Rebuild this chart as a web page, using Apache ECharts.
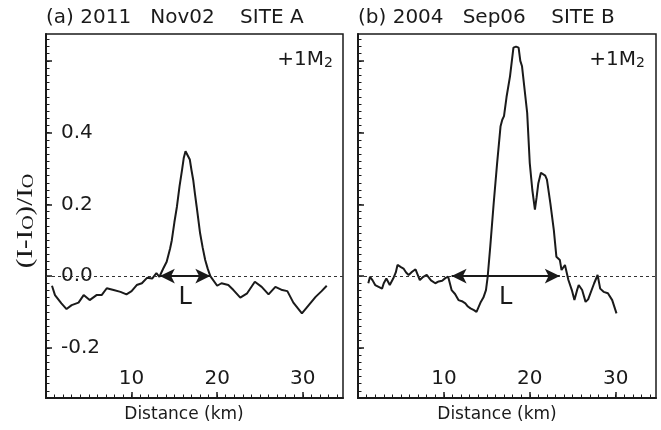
<!DOCTYPE html>
<html>
<head>
<meta charset="utf-8">
<script src="https://cdn.jsdelivr.net/npm/echarts@6/dist/echarts.min.js"></script>
<style>
  html, body { margin: 0; background: #fff; }
  #chart { width: 661px; height: 430px; }
</style>
</head>
<body>
<div id="chart"></div>
<script>
// panel (a) 2011 Nov02, site A
const distA = [0.7, 1.05, 1.8, 2.4, 3.0, 3.8, 4.4, 5.1, 5.9, 6.5, 7.1, 7.9, 8.7, 9.4, 10.0, 10.6, 11.2, 11.8, 12.4, 12.9, 13.25,
  13.7, 14.1, 14.5, 14.7, 15.0, 15.3, 15.6, 15.9, 16.1, 16.3, 16.5, 16.8, 17.0, 17.2, 17.4, 17.6, 18.0, 18.3, 18.6, 18.9, 19.2,
  20.0, 20.5, 21.3, 21.9, 22.7, 23.5, 24.4, 25.2, 26.0, 26.8, 27.6, 28.2, 28.9, 29.9, 30.7, 31.5, 32.2, 32.8]
const valA = [-0.027, -0.053, -0.076, -0.092, -0.081, -0.074, -0.053, -0.067, -0.053, -0.053, -0.034, -0.039, -0.044, -0.051, -0.042, -0.025, -0.02, -0.005, -0.007, 0.008, -0.002,
  0.021, 0.04, 0.077, 0.1, 0.15, 0.194, 0.25, 0.297, 0.33, 0.348, 0.345, 0.325, 0.295, 0.268, 0.23, 0.194, 0.12, 0.08, 0.045, 0.02, 0.0,
  -0.027, -0.02, -0.025, -0.039, -0.06, -0.048, -0.016, -0.03, -0.051, -0.03, -0.039, -0.042, -0.074, -0.104, -0.081, -0.058, -0.042, -0.027]

// panel (b) 2004 Sep06, site B
const distB = [1.2, 1.4, 1.7, 2.0, 2.4, 2.8, 3.0, 3.3, 3.7, 4.1, 4.4, 4.6, 5.0, 5.3, 5.6, 5.9, 6.3, 6.7, 7.2, 7.6, 8.0, 8.5, 9.0, 9.4, 9.8, 10.2, 10.5,
  10.9, 11.3, 11.7, 12.1, 12.5, 12.8, 13.1, 13.5, 13.8, 14.3, 14.6, 14.9, 15.1, 15.4, 15.8, 16.2, 16.6, 16.8, 17.0, 17.3, 17.7, 18.1, 18.4, 18.7,
  18.9, 19.1, 19.3, 19.7, 20.0, 20.3, 20.6, 20.8, 21.0, 21.3, 21.5, 21.8, 22.0, 22.4, 22.8, 23.1, 23.3, 23.5, 23.7, 23.9, 24.1, 24.5, 24.9,
  25.2, 25.5, 25.7, 26.1, 26.5, 26.8, 27.0, 27.5, 27.9, 28.2, 28.6, 29.1, 29.6, 30.1]
const valB = [-0.02, -0.002, -0.012, -0.025, -0.03, -0.035, -0.02, -0.007, -0.025, -0.007, 0.01, 0.031, 0.025, 0.021, 0.01, 0.003, 0.012, 0.019, -0.011, -0.002, 0.003, -0.012, -0.02, -0.015, -0.013, -0.005, -0.002,
  -0.039, -0.05, -0.067, -0.07, -0.076, -0.085, -0.09, -0.095, -0.1, -0.072, -0.06, -0.039, -0.002, 0.082, 0.203, 0.315, 0.418, 0.436, 0.446, 0.5, 0.557, 0.637, 0.64, 0.637,
  0.6, 0.585, 0.58, 0.455, 0.315, 0.24, 0.185, 0.22, 0.259, 0.288, 0.292, 0.28, 0.269, 0.203, 0.129, 0.054, 0.05, 0.045, 0.017, 0.02, 0.031, -0.011, -0.039,
  -0.067, -0.04, -0.025, -0.039, -0.072, -0.065, -0.067, -0.02, 0.003, -0.035, -0.044, -0.048, -0.067, -0.104]

// width L (arrow ends, km)
const arrowA = [13.3, 19.2]
const arrowB = [10.9, 23.5]

const titles = ['(a) 2011   Nov02    SITE A', '(b) 2004   Sep06    SITE B']
const xMajor = [0, 10, 20, 30]
const xLabels = [10, 20, 30]
const yMajor = [-0.2, 0, 0.2, 0.4, 0.6]
const yLabels = [-0.2, 0, 0.2, 0.4]

const X_MIN = 0, X_MAX = 34.7
const Y_MIN = -0.34, Y_MAX = 0.675

const xMinor = []
for (let v = 0; v <= 34; v++) xMinor.push(v)
const yMinor = []
for (let k = -17; k <= 33; k++) yMinor.push(+(k * 0.02).toFixed(2))

const FONT = '"DejaVu Sans", "Noto Sans", sans-serif'
const SERIF = '"Liberation Serif", "DejaVu Serif", serif'
const INK = '#1a1a1a'

const grids = [
  { left: 46, top: 34, width: 297, height: 364 },
  { left: 358, top: 34, width: 298, height: 364 }
]

const xAxes = []
const yAxes = []
grids.forEach(function (g, i) {
  // major ticks + labels
  xAxes.push({
    type: 'value', gridIndex: i, position: 'bottom', min: X_MIN, max: X_MAX,
    axisLine: { onZero: false, lineStyle: { color: INK, width: 2 } },
    axisTick: { inside: true, length: 6, customValues: xMajor, lineStyle: { color: INK, width: 1.5 } },
    axisLabel: { inside: true, margin: 9, customValues: xLabels, color: INK, fontSize: 20, fontFamily: FONT },
    splitLine: { show: false }
  })
  // minor ticks
  xAxes.push({
    type: 'value', gridIndex: i, position: 'bottom', min: X_MIN, max: X_MAX,
    axisLine: { show: false, onZero: false },
    axisTick: { inside: true, length: 3.5, customValues: xMinor, lineStyle: { color: INK, width: 1 } },
    axisLabel: { show: false },
    splitLine: { show: false }
  })
  yAxes.push({
    type: 'value', gridIndex: i, position: 'left', min: Y_MIN, max: Y_MAX,
    axisLine: { show: true, onZero: false, lineStyle: { color: INK, width: 2 } },
    axisTick: { show: true, inside: true, length: 6, customValues: yMajor, lineStyle: { color: INK, width: 1.5 } },
    axisLabel: {
      show: i === 0, inside: true, margin: 15, customValues: yLabels,
      color: INK, fontSize: 20, fontFamily: FONT,
      formatter: function (v) { return v.toFixed(1) }
    },
    splitLine: { show: false }
  })
  yAxes.push({
    type: 'value', gridIndex: i, position: 'left', min: Y_MIN, max: Y_MAX,
    axisLine: { show: false, onZero: false },
    axisTick: { show: true, inside: true, length: 3.5, customValues: yMinor, lineStyle: { color: INK, width: 1 } },
    axisLabel: { show: false },
    splitLine: { show: false }
  })
})

function pairs(xs, ys) {
  return xs.map(function (x, i) { return [x, ys[i]] })
}

function panelSeries(i, xs, ys, arrow) {
  const ax = { xAxisIndex: i * 2, yAxisIndex: i * 2 }
  return [
    // dashed zero line
    Object.assign({
      type: 'line', data: [], silent: true, z: 1,
      markLine: {
        silent: true, animation: false, symbol: 'none',
        lineStyle: { color: '#333', width: 1, type: [3, 3] },
        label: { show: false },
        data: [[{ coord: [X_MIN, 0] }, { coord: [X_MAX, 0] }]]
      }
    }, ax),
    // profile
    Object.assign({
      type: 'line', data: pairs(xs, ys), z: 3,
      showSymbol: false, silent: true,
      lineStyle: { color: INK, width: 2 }
    }, ax),
    // L arrow
    Object.assign({
      type: 'line', data: [], silent: true, z: 4,
      markLine: {
        silent: true, animation: false,
        symbol: ['arrow', 'arrow'], symbolSize: [11, 15],
        itemStyle: { color: INK },
        lineStyle: { color: INK, width: 2, type: 'solid' },
        label: { show: true, position: 'insideMiddleBottom', distance: 10, formatter: 'L', color: INK, fontSize: 24, fontFamily: FONT },
        data: [[{ coord: [arrow[0], 0] }, { coord: [arrow[1], 0] }]]
      }
    }, ax)
  ]
}

const chart = echarts.init(document.getElementById('chart'))
chart.setOption({
  animation: false,
  backgroundColor: '#fff',
  title: titles.map(function (t, i) {
    return {
      text: t, left: grids[i].left, top: 8, padding: 0,
      textStyle: { fontSize: 20, fontWeight: 'normal', fontFamily: FONT, color: INK }
    }
  }),
  grid: grids.map(function (g) {
    return Object.assign({ show: true, borderColor: INK, borderWidth: 1.5, backgroundColor: 'transparent' }, g)
  }),
  xAxis: xAxes,
  yAxis: yAxes,
  series: panelSeries(0, distA, valA, arrowA).concat(panelSeries(1, distB, valB, arrowB)),
  graphic: [
    {
      type: 'text', x: 333, y: 60,
      style: {
        text: '{m|+1M}{s|2}', align: 'right', verticalAlign: 'middle',
        rich: { m: { fontSize: 20, fontFamily: FONT, fill: INK }, s: { fontSize: 14, fontFamily: FONT, fill: INK, padding: [6, 0, 0, 0] } }
      }
    },
    {
      type: 'text', x: 645, y: 60,
      style: {
        text: '{m|+1M}{s|2}', align: 'right', verticalAlign: 'middle',
        rich: { m: { fontSize: 20, fontFamily: FONT, fill: INK }, s: { fontSize: 14, fontFamily: FONT, fill: INK, padding: [6, 0, 0, 0] } }
      }
    },
    {
      type: 'text', x: 184, y: 415,
      style: { text: 'Distance (km)', align: 'center', verticalAlign: 'middle', font: '17px ' + FONT, fill: INK }
    },
    {
      type: 'text', x: 497, y: 415,
      style: { text: 'Distance (km)', align: 'center', verticalAlign: 'middle', font: '17px ' + FONT, fill: INK }
    },
    {
      type: 'text', x: 26, y: 221, rotation: Math.PI / 2, scaleX: 1.25,
      style: {
        text: '{a|(I-I}{s|O}{a|)/I}{s|O}', align: 'center', verticalAlign: 'middle',
        rich: {
          a: { fontSize: 23, fontFamily: SERIF, fill: INK },
          s: { fontSize: 16, fontFamily: SERIF, fill: INK, padding: [6, 0, 0, 0] }
        }
      }
    }
  ]
})
</script>
</body>
</html>
